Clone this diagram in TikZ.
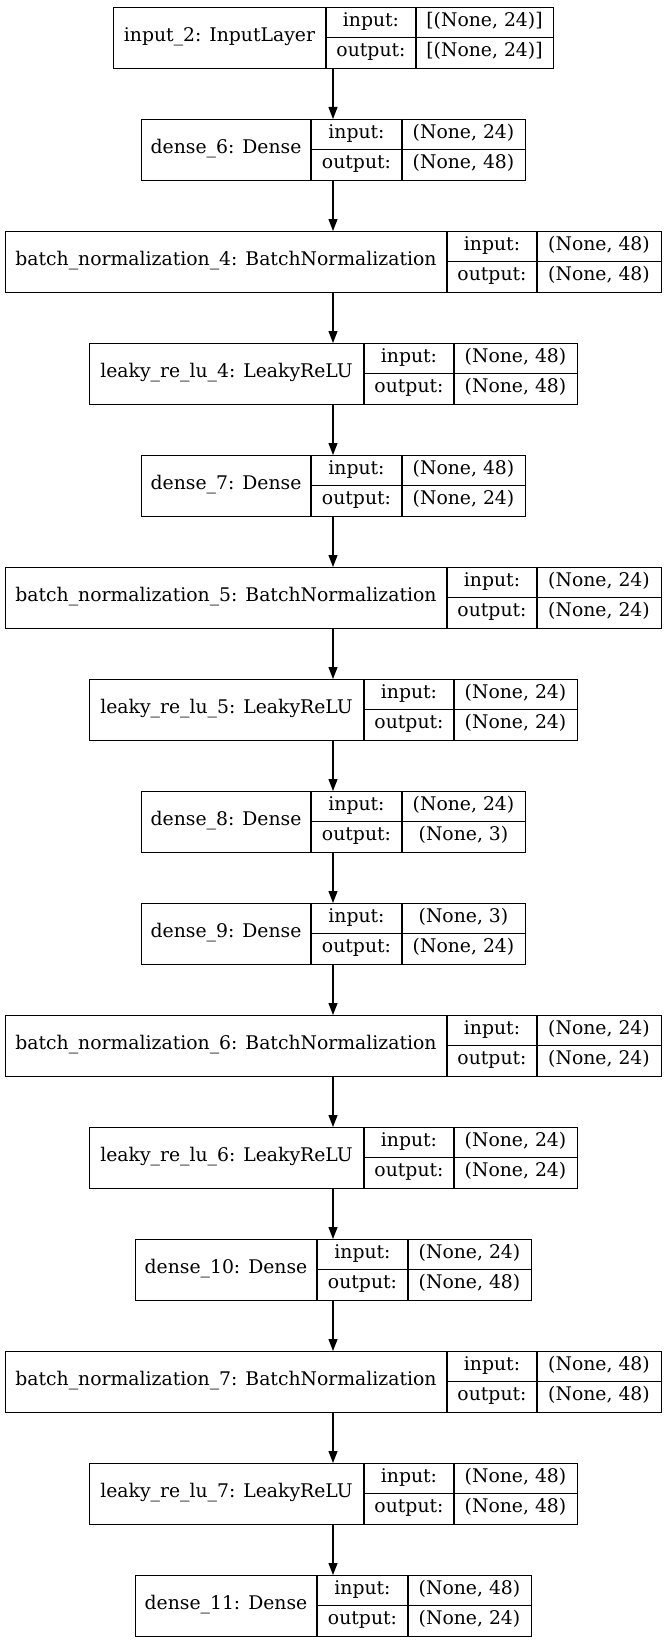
\documentclass[tikz,border=0pt]{standalone}
\usepackage{fontspec}
\setmainfont{DejaVu Serif}
\usetikzlibrary{arrows.meta}
\tikzset{
  x=1pt, y=-1pt,
  boxline/.style={line width=1.2pt},
  cell/.style={draw, boxline, inner sep=0pt, anchor=north west},
  txt/.style={font=\fontsize{18.8}{22}\selectfont, inner sep=0pt, text height=0.72em, text depth=0.2em},
  arr/.style={-{Triangle[length=12pt,width=9pt]}, line width=1.2pt}
}
\newcommand\klayer[9]{%
  \pgfmathsetmacro\yt{7+112*#2}%
  \pgfmathsetmacro\ym{\yt+30.5}%
  \pgfmathsetmacro\yb{\yt+61}%
  \node[cell, minimum width={(#6-#3)*1pt}, minimum height=61pt] (#1) at (#3,\yt) {};
  \draw[boxline] (#4,\yt) -- (#4,\yb) (#4,\ym) -- (#6,\ym) (#5,\yt) -- (#5,\yb);
  \node[txt] (#1-l) at ({(#3+#4)/2},{\ym+1.5}) {#7};
  \node[txt] (#1-ik) at ({(#4+#5)/2},{\yt+16.5}) {input:};
  \node[txt] (#1-ok) at ({(#4+#5)/2},{\yt+47}) {output:};
  \node[txt] (#1-iv) at ({(#5+#6)/2},{\yt+16.5}) {#8};
  \node[txt] (#1-ov) at ({(#5+#6)/2},{\yt+47}) {#9};
}
\begin{document}
\begin{tikzpicture}
\useasboundingbox (0,0) rectangle (667,1643);
\klayer{n0}{0}{113}{326}{416}{553}{input\_2: InputLayer}{[(None, 24)]}{[(None, 24)]}
\klayer{n1}{1}{141}{311}{402}{525}{dense\_6: Dense}{(None, 24)}{(None, 48)}
\klayer{n2}{2}{5}{447}{537}{661}{batch\_normalization\_4: BatchNormalization}{(None, 48)}{(None, 48)}
\klayer{n3}{3}{89}{364}{454}{577}{leaky\_re\_lu\_4: LeakyReLU}{(None, 48)}{(None, 48)}
\klayer{n4}{4}{141}{311}{402}{525}{dense\_7: Dense}{(None, 48)}{(None, 24)}
\klayer{n5}{5}{5}{447}{537}{661}{batch\_normalization\_5: BatchNormalization}{(None, 24)}{(None, 24)}
\klayer{n6}{6}{89}{364}{454}{577}{leaky\_re\_lu\_5: LeakyReLU}{(None, 24)}{(None, 24)}
\klayer{n7}{7}{141}{311}{402}{525}{dense\_8: Dense}{(None, 24)}{(None, 3)}
\klayer{n8}{8}{141}{311}{402}{525}{dense\_9: Dense}{(None, 3)}{(None, 24)}
\klayer{n9}{9}{5}{447}{537}{661}{batch\_normalization\_6: BatchNormalization}{(None, 24)}{(None, 24)}
\klayer{n10}{10}{89}{364}{454}{577}{leaky\_re\_lu\_6: LeakyReLU}{(None, 24)}{(None, 24)}
\klayer{n11}{11}{135}{317}{408}{531}{dense\_10: Dense}{(None, 24)}{(None, 48)}
\klayer{n12}{12}{5}{447}{537}{661}{batch\_normalization\_7: BatchNormalization}{(None, 48)}{(None, 48)}
\klayer{n13}{13}{89}{364}{454}{577}{leaky\_re\_lu\_7: LeakyReLU}{(None, 48)}{(None, 48)}
\klayer{n14}{14}{135}{317}{408}{531}{dense\_11: Dense}{(None, 48)}{(None, 24)}
\foreach \a/\b in {n0/n1,n1/n2,n2/n3,n3/n4,n4/n5,n5/n6,n6/n7,n7/n8,n8/n9,n9/n10,n10/n11,n11/n12,n12/n13,n13/n14}
  \draw[arr] (\a.south -| 333,0) -- (\b.north -| 333,0);
\end{tikzpicture}
\end{document}
